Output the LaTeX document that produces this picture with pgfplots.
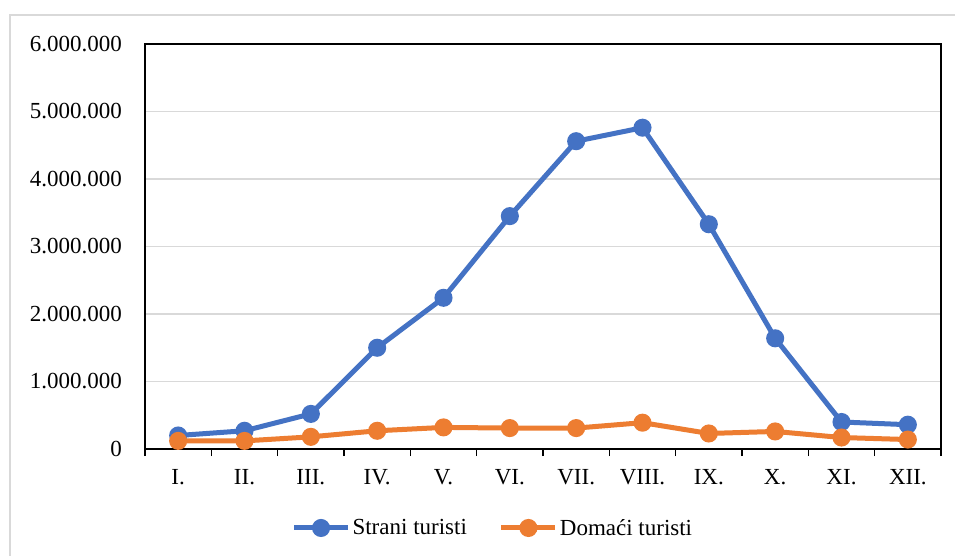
\documentclass[border=0pt]{standalone}
\usepackage{pgfplots}
\pgfplotsset{compat=1.18}
\usepackage{fontspec}
\setmainfont{Liberation Serif}
\definecolor{cblue}{HTML}{4472C4}
\definecolor{corange}{HTML}{ED7D31}
\definecolor{cgrid}{HTML}{D9D9D9}
\begin{document}
\begin{tikzpicture}[font=\fontsize{23}{28}\selectfont]
\useasboundingbox[fill=white] (-145pt,-107pt) rectangle (810pt,449pt);
\draw[cgrid, line width=2pt] (-135pt,-108pt) -- (-135pt,434pt) -- (811pt,434pt);
\begin{axis}[
  at={(0pt,0pt)}, anchor=south west,
  scale only axis, width=796pt, height=405pt,
  xmin=0.5, xmax=12.5, ymin=0, ymax=6000000,
  xtick={1,...,12},
  xticklabels={I.,II.,III.,IV.,V.,VI.,VII.,VIII.,IX.,X.,XI.,XII.},
  minor xtick={0.5,1.5,...,12.5},
  ytick={0,1000000,...,6000000},
  scaled y ticks=false,
  /pgf/number format/.cd, fixed, 1000 sep={.}, assume math mode=true,
  /pgfplots/.cd,
  ymajorgrids, grid style={cgrid, line width=1.2pt},
  axis line style={black, line width=1.6pt},
  major tick length=0pt,
  minor tick length=7pt,
  minor tick style={black, line width=1.6pt},
  xtick pos=bottom, ytick pos=left,
  tick align=outside,
  minor x tick style={black, line width=1.6pt},
  xticklabel style={inner sep=0pt, anchor=north, yshift=-20pt},
  yticklabel style={inner sep=0pt, anchor=east, xshift=-23pt},
  legend style={at={(0.437,-0.195)}, anchor=center, draw=none, fill=none,
    legend columns=2, column sep=0pt,
    /tikz/every even column/.append style={column sep=30pt},
    nodes={inner sep=2pt}},
  legend image code/.code={\draw[mark repeat=2, mark phase=2] plot coordinates {(0pt,0pt) (27pt,0pt) (54pt,0pt)};},
]
\addplot[cblue, line width=5pt, mark=*, mark size=6.5pt, mark options={solid, fill=cblue}]
coordinates {(1,200000) (2,270000) (3,520000) (4,1500000) (5,2240000) (6,3450000) (7,4560000) (8,4760000) (9,3330000) (10,1640000) (11,400000) (12,360000)};
\addlegendentry{Strani turisti}
\addplot[corange, line width=5pt, mark=*, mark size=6.5pt, mark options={solid, fill=corange}]
coordinates {(1,120000) (2,120000) (3,180000) (4,270000) (5,320000) (6,310000) (7,310000) (8,390000) (9,230000) (10,260000) (11,170000) (12,140000)};
\addlegendentry{Domaći turisti}
\end{axis}
\end{tikzpicture}
\end{document}
